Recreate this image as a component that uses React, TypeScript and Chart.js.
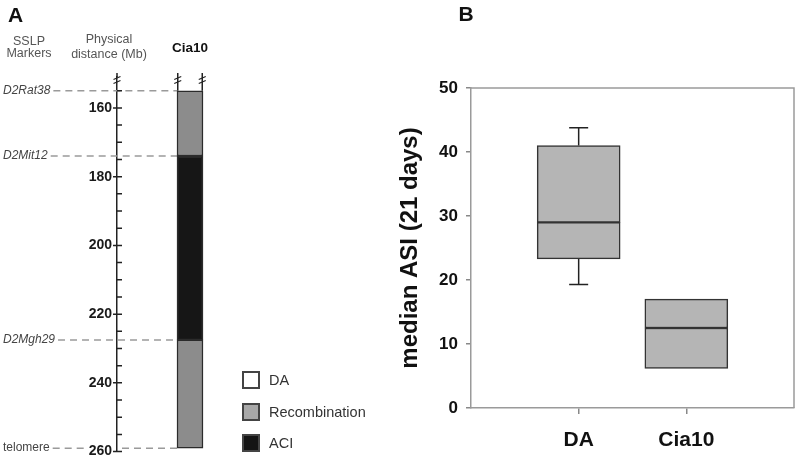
import React, { useEffect, useRef } from 'react';
import { Chart, registerables } from 'chart.js';

Chart.register(...registerables);

const FONT = "'Liberation Sans', Arial, Helvetica, sans-serif";

// ---------- Panel A: Cia10 congenic interval ----------
const distanceTicks = [160, 180, 200, 220, 240, 260];
const distanceMin = 151;
const distanceMax = 260;
const minorTickStep = 5;
const markerNames = ['D2Rat38', 'D2Mit12', 'D2Mgh29', 'telomere'];
const markerPositions = [155, 174, 227.5, 259];
const markerIsLocus = [true, true, true, false];
const segmentLabels = ['Recombination', 'ACI', 'Recombination'];
const segmentStarts = [155, 174, 227.5];
const segmentEnds = [174, 227.5, 259];
const strainLabel = ['Cia10'];
const legendLabels = ['DA', 'Recombination', 'ACI'];

// ---------- Panel B: median ASI box plot ----------
const groups = ['DA', 'Cia10'];
const whiskerLow: (number | null)[] = [19.3, null];
const q1 = [23.3, 6.2];
const median = [29.0, 12.5];
const q3 = [41.0, 17.0];
const whiskerHigh: (number | null)[] = [43.8, null];
const asiMin = 0;
const asiMax = 50;
const asiStep = 10;

const fillFor: Record<string, string> = {
  DA: '#ffffff',
  Recombination: '#8c8c8c',
  ACI: '#161616',
};
const legendFill: Record<string, string> = {
  DA: '#ffffff',
  Recombination: '#a8a8a8',
  ACI: '#141414',
};

function drawBreak(ctx: CanvasRenderingContext2D, x: number, y: number) {
  ctx.beginPath();
  for (const dy of [0, 4]) {
    ctx.moveTo(x - 3.5, y + dy + 1.5);
    ctx.lineTo(x + 3.5, y + dy - 1.5);
  }
  ctx.stroke();
}

const panelAPlugin = {
  id: 'panelA',
  beforeDatasetsDraw(chart: any) {
    const { ctx, chartArea } = chart;
    const y = chart.scales.y;
    const bar = chart.getDatasetMeta(0).data[0].getProps(['x', 'width'], true);
    const barLeft = bar.x - bar.width / 2;
    const axisX = chartArea.left;
    ctx.save();
    // dashed marker lines
    ctx.strokeStyle = '#9a9a9a';
    ctx.lineWidth = 1.5;
    ctx.setLineDash([7, 5]);
    markerNames.forEach((name, i) => {
      ctx.font = `${markerIsLocus[i] ? 'italic ' : ''}12px ${FONT}`;
      const start = 3 + ctx.measureText(name).width + 3;
      const py = y.getPixelForValue(markerPositions[i]);
      ctx.beginPath();
      const onTick = distanceTicks.some((t) => Math.abs(t - markerPositions[i]) < 2);
      if (onTick) {
        ctx.font = `bold 14px ${FONT}`;
        const tl = axisX - 5 - ctx.measureText('260').width - 3;
        ctx.moveTo(start, py);
        ctx.lineTo(tl, py);
        ctx.moveTo(axisX + 5, py);
        ctx.lineTo(barLeft, py);
      } else {
        ctx.moveTo(start, py);
        ctx.lineTo(barLeft, py);
      }
      ctx.stroke();
    });
    ctx.setLineDash([]);
    // axis ticks
    ctx.strokeStyle = '#222';
    ctx.lineWidth = 1.5;
    ctx.beginPath();
    for (let v = distanceTicks[0] - minorTickStep; v <= distanceMax; v += minorTickStep) {
      const py = y.getPixelForValue(v);
      const major = distanceTicks.includes(v);
      ctx.moveTo(major ? axisX - 4 : axisX, py);
      ctx.lineTo(axisX + 5, py);
    }
    ctx.moveTo(axisX, chartArea.top);
    ctx.lineTo(axisX, chartArea.top - 4);
    ctx.stroke();
    ctx.restore();
  },
  afterDatasetsDraw(chart: any) {
    const { ctx, chartArea } = chart;
    const y = chart.scales.y;
    const bar = chart.getDatasetMeta(0).data[0].getProps(['x', 'width'], true);
    const barLeft = bar.x - bar.width / 2 + 0.75;
    const barRight = bar.x + bar.width / 2 - 0.75;
    const axisX = chartArea.left;
    ctx.save();
    ctx.strokeStyle = '#222';
    ctx.lineWidth = 1.5;
    const topPx = y.getPixelForValue(segmentStarts[0]);
    ctx.beginPath();
    for (const bx of [barLeft, barRight]) {
      ctx.moveTo(bx, topPx);
      ctx.lineTo(bx, chartArea.top - 4);
    }
    ctx.stroke();
    ctx.lineWidth = 1.2;
    for (const bx of [axisX, barLeft, barRight]) drawBreak(ctx, bx, chartArea.top + 1);

    // texts
    ctx.fillStyle = '#111';
    ctx.textBaseline = 'middle';
    ctx.textAlign = 'left';
    ctx.font = `bold 21px ${FONT}`;
    ctx.fillText('A', 8, 16);

    ctx.fillStyle = '#555';
    ctx.textAlign = 'center';
    ctx.font = `12.5px ${FONT}`;
    ctx.fillText('SSLP', 29, 42);
    ctx.fillText('Markers', 29, 54);
    ctx.fillText('Physical', 109, 40);
    ctx.fillText('distance (Mb)', 109, 55);
    ctx.fillStyle = '#111';
    ctx.font = `bold 13.5px ${FONT}`;
    ctx.fillText(strainLabel[0], bar.x, 48);

    ctx.textAlign = 'left';
    ctx.fillStyle = '#444';
    markerNames.forEach((name, i) => {
      ctx.font = `${markerIsLocus[i] ? 'italic ' : ''}12px ${FONT}`;
      ctx.fillText(name, 3, y.getPixelForValue(markerPositions[i]));
    });

    // legend
    const legendY = [380, 412, 443];
    legendLabels.forEach((lab, i) => {
      ctx.fillStyle = legendFill[lab];
      ctx.strokeStyle = '#444';
      ctx.lineWidth = 2;
      ctx.fillRect(243, legendY[i] - 8, 16, 16);
      ctx.strokeRect(243, legendY[i] - 8, 16, 16);
      ctx.fillStyle = '#333';
      ctx.font = `14.5px ${FONT}`;
      ctx.fillText(lab, 269, legendY[i] + 1);
    });
    ctx.restore();
  },
};

const panelBPlugin = {
  id: 'panelB',
  afterDatasetsDraw(chart: any) {
    const { ctx, chartArea } = chart;
    const x = chart.scales.x;
    const y = chart.scales.y;
    ctx.save();
    ctx.strokeStyle = '#222';
    ctx.lineWidth = 1.5;
    ctx.beginPath();
    groups.forEach((g, i) => {
      const px = x.getPixelForValue(i + 1);
      const hi = whiskerHigh[i];
      const lo = whiskerLow[i];
      if (hi != null) {
        ctx.moveTo(px, y.getPixelForValue(q3[i]));
        ctx.lineTo(px, y.getPixelForValue(hi));
        ctx.moveTo(px - 9.5, y.getPixelForValue(hi));
        ctx.lineTo(px + 9.5, y.getPixelForValue(hi));
      }
      if (lo != null) {
        ctx.moveTo(px, y.getPixelForValue(q1[i]));
        ctx.lineTo(px, y.getPixelForValue(lo));
        ctx.moveTo(px - 9.5, y.getPixelForValue(lo));
        ctx.lineTo(px + 9.5, y.getPixelForValue(lo));
      }
    });
    ctx.stroke();
    // frame top & right
    ctx.strokeStyle = '#9a9a9a';
    ctx.lineWidth = 1.5;
    ctx.beginPath();
    ctx.moveTo(chartArea.left, chartArea.top);
    ctx.lineTo(chartArea.right, chartArea.top);
    ctx.lineTo(chartArea.right, chartArea.bottom);
    ctx.stroke();
    ctx.fillStyle = '#111';
    ctx.font = `bold 21px ${FONT}`;
    ctx.textAlign = 'center';
    ctx.textBaseline = 'middle';
    ctx.fillText('B', 106, 15);
    ctx.restore();
  },
};

export default function App() {
  const refA = useRef<HTMLCanvasElement>(null);
  const refB = useRef<HTMLCanvasElement>(null);

  useEffect(() => {
    Chart.defaults.font.family = FONT;
    const chartA = new Chart(refA.current as HTMLCanvasElement, {
      type: 'bar',
      data: {
        labels: strainLabel,
        datasets: segmentLabels.map((lab, i) => ({
          label: lab,
          data: [[segmentStarts[i], segmentEnds[i]]] as any,
          backgroundColor: fillFor[lab],
          borderColor: '#2b2b2b',
          borderWidth: 1.5,
          borderSkipped: false,
          barThickness: 26,
          grouped: false,
        })),
      },
      options: {
        responsive: false,
        animation: false,
        layout: { padding: { top: 77, bottom: 11, left: 0, right: 137 } },
        plugins: { legend: { display: false }, tooltip: { enabled: false } },
        scales: {
          x: { display: false },
          y: {
            reverse: true,
            min: distanceMin,
            max: distanceMax,
            afterFit: (s: any) => { s.width = 117; },
            afterBuildTicks: (s: any) => { s.ticks = distanceTicks.map((v) => ({ value: v })); },
            grid: { display: false, drawTicks: false },
            border: { display: true, color: '#222', width: 1.5 },
            ticks: { padding: 5, color: '#1a1a1a', font: { size: 14, weight: 'bold', family: FONT } },
          },
        },
      } as any,
      plugins: [panelAPlugin],
    });

    const chartB = new Chart(refB.current as HTMLCanvasElement, {
      type: 'bar',
      data: {
        datasets: [
          {
            label: 'lower box',
            data: groups.map((g, i) => ({ x: i + 1, y: [q1[i], median[i]] })) as any,
          },
          {
            label: 'upper box',
            data: groups.map((g, i) => ({ x: i + 1, y: [median[i], q3[i]] })) as any,
          },
        ].map((d) => ({
          ...d,
          backgroundColor: '#b5b5b5',
          borderColor: '#333',
          borderWidth: 1.5,
          borderSkipped: false,
          barThickness: 83,
          grouped: false,
        })),
      },
      options: {
        responsive: false,
        animation: false,
        layout: { padding: { top: 88, bottom: 0, left: 0, right: 6 } },
        plugins: { legend: { display: false }, tooltip: { enabled: false } },
        scales: {
          x: {
            type: 'linear',
            min: 0,
            max: groups.length + 1,
            offset: false,
            afterBuildTicks: (s: any) => { s.ticks = groups.map((g, i) => ({ value: i + 1 })); },
            afterFit: (s: any) => { s.height = 57; },
            grid: { offset: false, drawOnChartArea: false, tickLength: 6, color: '#888', lineWidth: 1.5 },
            border: { display: true, color: '#9a9a9a', width: 1.5 },
            ticks: {
              padding: 14,
              color: '#111',
              font: { size: 21, weight: 'bold', family: FONT },
              callback: (v: any) => groups[Math.round(v) - 1] ?? '',
            },
          },
          y: {
            min: asiMin,
            max: asiMax,
            afterFit: (s: any) => { s.width = 111; },
            grid: { drawOnChartArea: false, tickLength: 5, color: '#888', lineWidth: 1.5 },
            border: { display: true, color: '#9a9a9a', width: 1.5 },
            ticks: {
              stepSize: asiStep,
              padding: 8,
              color: '#111',
              font: { size: 17, weight: 'bold', family: FONT },
            },
            title: {
              display: true,
              text: 'median ASI (21 days)',
              color: '#111',
              font: { size: 24, weight: 'bold', family: FONT },
              padding: { top: 36, bottom: 0 },
            },
          },
        },
      } as any,
      plugins: [panelBPlugin],
    });

    return () => {
      chartA.destroy();
      chartB.destroy();
    };
  }, []);

  return (
    <div style={{ position: 'fixed', left: 0, top: 0, width: 800, height: 465, background: '#fff', overflow: 'hidden' }}>
      <canvas ref={refA} width={400} height={465} style={{ position: 'absolute', left: 0, top: 0, width: 400, height: 465 }} />
      <canvas ref={refB} width={440} height={465} style={{ position: 'absolute', left: 360, top: 0, width: 440, height: 465 }} />
    </div>
  );
}
